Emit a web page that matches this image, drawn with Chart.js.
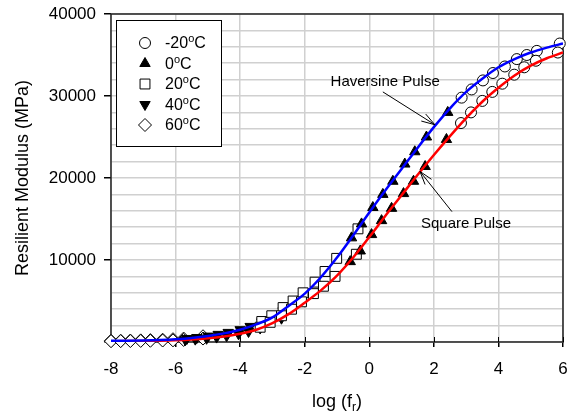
<!DOCTYPE html>
<html>
<head>
<meta charset="utf-8">
<script src="https://cdn.jsdelivr.net/npm/chart.js@4.4.0/dist/chart.umd.min.js"></script>
<style>
    html, body { margin: 0; padding: 0; background: #fff; }
    #wrap { width: 571px; height: 419px; }
</style>
</head>
<body>
<div id="wrap"><canvas id="modulusChart" width="571" height="419"></canvas></div>
<script>
// ===========================
// Resilient modulus master curves (Haversine vs Square pulse)
// ===========================

// fitted master curves
const curveLogFr = [-8, -7.5, -7, -6.5, -6, -5.5, -5, -4.5, -4, -3.5, -3, -2.5, -2, -1.5, -1, -0.5, 0, 0.5, 1, 1.5, 2, 2.5, 3, 3.5, 4, 4.5, 5, 5.5, 6];
const haversineFit = [150, 160, 190, 240, 330, 480, 720, 1050, 1500, 2150, 3000, 4400, 5900, 7900, 10300, 13000, 15800, 18500, 21100, 23700, 26200, 28500, 30500, 32100, 33500, 34500, 35300, 35900, 36400];
const squareFit = [100, 110, 130, 160, 210, 300, 450, 680, 1000, 1500, 2300, 3400, 4800, 6300, 8100, 10300, 12800, 15400, 17900, 20400, 22800, 25100, 27300, 29300, 31000, 32500, 33700, 34600, 35300];

const tempLabels = ['-20°C', '0°C', '20°C', '40°C', '60°C'];

// -20°C
const logFrM20Hav = [2.86, 3.17, 3.52, 3.83, 4.20, 4.57, 4.88, 5.19, 5.90];
const mrM20Hav = [29800, 30800, 31900, 32800, 33600, 34500, 35000, 35500, 36400];
const logFrM20Sq = [2.84, 3.15, 3.50, 3.81, 4.12, 4.49, 4.80, 5.16, 5.84];
const mrM20Sq = [26700, 28000, 29400, 30500, 31500, 32600, 33500, 34300, 35300];
// 0°C
const logFr0Hav = [-0.55, -0.24, 0.11, 0.42, 0.73, 1.10, 1.41, 1.77, 2.43];
const mr0Hav = [12700, 14400, 16400, 18000, 19600, 21700, 23200, 25000, 28000];
const logFr0Sq = [-0.59, -0.28, 0.07, 0.38, 0.69, 1.06, 1.37, 1.73, 2.39];
const mr0Sq = [9800, 11100, 13100, 14800, 16300, 18100, 19600, 21400, 24700];
// 20°C
const logFr20Hav = [-3.33, -3.02, -2.67, -2.36, -2.05, -1.68, -1.37, -1.01, -0.35];
const mr20Hav = [2500, 3200, 4200, 5000, 6000, 7300, 8600, 10200, 13800];
const logFr20Sq = [-3.38, -3.07, -2.72, -2.41, -2.10, -1.73, -1.42, -1.06, -0.40];
const mr20Sq = [1800, 2400, 3200, 4000, 4900, 5900, 6800, 8000, 10700];
// 40°C
const logFr40Hav = [-5.65, -5.34, -4.99, -4.68, -4.37, -4.00, -3.69, -3.33, -2.67];
const mr40Hav = [430, 550, 720, 930, 1170, 1500, 1900, 2450, 3800];
const logFr40Sq = [-5.70, -5.39, -5.04, -4.73, -4.42, -4.05, -3.74, -3.38, -2.72];
const mr40Sq = [270, 350, 450, 600, 760, 1000, 1280, 1700, 2900];
// 60°C
const logFr60Hav = [-8.00, -7.70, -7.40, -7.08, -6.78, -6.40, -6.08, -5.75, -5.15];
const mr60Hav = [150, 160, 180, 200, 230, 280, 340, 420, 700];
const logFr60Sq = [-8.00, -7.70, -7.40, -7.08, -6.78, -6.40, -6.08, -5.75, -5.15];
const mr60Sq = [100, 110, 120, 130, 150, 180, 200, 250, 420];

// callouts, anchored in data units
const calloutText = ['Haversine Pulse', 'Square Pulse'];
const calloutTextPos = [[-1.2, 31700], [1.6, 14400]];
const calloutTail = [[0.42, 30500], [2.56, 15900]];
const calloutTip = [[2.03, 26500], [1.57, 20800]];

const FONT = "'Liberation Sans', Arial, sans-serif";

function toPoints(xs, ys) {
    return xs.map((x, i) => ({ x: x, y: ys[i] }));
}

function markerSet(label, hx, hy, sx, sy, style) {
    return Object.assign({
        label: label,
        data: toPoints(hx, hy).concat(toPoints(sx, sy)),
        showLine: false,
        inLegend: true,
        clip: false,
        order: 5,
        borderColor: '#000',
        borderWidth: 1,
        backgroundColor: '#fff'
    }, style);
}

// Legend inside plot, drawn by hand
const tempLegend = {
    id: 'tempLegend',
    afterDraw(chart) {
        const ctx = chart.ctx;
        const left = chart.chartArea.left + 5;
        const top = chart.chartArea.top + 6;
        ctx.save();
        ctx.fillStyle = '#fff';
        ctx.fillRect(left, top, 105, 126);
        ctx.strokeStyle = '#000';
        ctx.lineWidth = 1;
        ctx.strokeRect(left + 0.5, top + 0.5, 105, 126);

        const sets = chart.data.datasets.filter(d => d.inLegend);
        sets.forEach((ds, i) => {
            const y = top + 23 + i * 20.5;
            ctx.fillStyle = ds.backgroundColor;
            ctx.strokeStyle = ds.borderColor;
            ctx.lineWidth = ds.borderWidth;
            Chart.helpers.drawPoint(ctx, {
                pointStyle: ds.pointStyle,
                rotation: ds.rotation || 0,
                radius: ds.pointRadius,
                borderWidth: ds.borderWidth
            }, left + 29, y);

            // label with superscript degree
            const parts = ds.label.split('°');
            let x = left + 49;
            ctx.fillStyle = '#000';
            ctx.textAlign = 'left';
            ctx.textBaseline = 'middle';
            ctx.font = '16px ' + FONT;
            ctx.fillText(parts[0], x, y + 1);
            x += ctx.measureText(parts[0]).width;
            ctx.font = '11px ' + FONT;
            ctx.fillText('o', x, y - 4);
            x += ctx.measureText('o').width;
            ctx.font = '16px ' + FONT;
            ctx.fillText(parts[1], x, y + 1);
        });
        ctx.restore();
    }
};

// frame, inner x ticks, x title with subscript, callouts
const decorations = {
    id: 'decorations',
    beforeDatasetsDraw(chart) {
        const ctx = chart.ctx;
        const a = chart.chartArea;
        const xs = chart.scales.x;
        ctx.save();
        ctx.strokeStyle = '#222';
        ctx.lineWidth = 1.5;
        ctx.strokeRect(a.left, a.top, a.right - a.left, a.bottom - a.top);
        ctx.lineWidth = 1;
        ctx.strokeStyle = '#000';
        xs.ticks.forEach(t => {
            const px = Math.round(xs.getPixelForValue(t.value)) + 0.5;
            ctx.beginPath();
            ctx.moveTo(px, a.bottom - 5);
            ctx.lineTo(px, a.bottom);
            ctx.stroke();
        });
        ctx.restore();
    },
    afterDraw(chart) {
        const ctx = chart.ctx;
        const a = chart.chartArea;
        const xs = chart.scales.x;
        const ys = chart.scales.y;
        ctx.save();

        // x axis title: log (f_r)
        const cx = (a.left + a.right) / 2;
        const ty = 402;
        ctx.fillStyle = '#000';
        ctx.textBaseline = 'middle';
        ctx.textAlign = 'left';
        ctx.font = '18px ' + FONT;
        const w1 = ctx.measureText('log (f').width;
        const w3 = ctx.measureText(')').width;
        ctx.font = '12px ' + FONT;
        const w2 = ctx.measureText('r').width;
        let x = cx - (w1 + w2 + w3) / 2;
        ctx.font = '18px ' + FONT;
        ctx.fillText('log (f', x, ty);
        x += w1;
        ctx.font = '12px ' + FONT;
        ctx.fillText('r', x, ty + 6);
        x += w2;
        ctx.font = '18px ' + FONT;
        ctx.fillText(')', x, ty);

        // callouts
        ctx.font = '15px ' + FONT;
        ctx.strokeStyle = '#000';
        ctx.lineWidth = 1;
        calloutText.forEach((txt, i) => {
            ctx.fillText(txt, xs.getPixelForValue(calloutTextPos[i][0]), ys.getPixelForValue(calloutTextPos[i][1]));
            const x0 = xs.getPixelForValue(calloutTail[i][0]);
            const y0 = ys.getPixelForValue(calloutTail[i][1]);
            const x1 = xs.getPixelForValue(calloutTip[i][0]);
            const y1 = ys.getPixelForValue(calloutTip[i][1]);
            const ang = Math.atan2(y1 - y0, x1 - x0);
            ctx.beginPath();
            ctx.moveTo(x0, y0);
            ctx.lineTo(x1, y1);
            ctx.moveTo(x1 - 14 * Math.cos(ang - 0.3), y1 - 14 * Math.sin(ang - 0.3));
            ctx.lineTo(x1, y1);
            ctx.lineTo(x1 - 14 * Math.cos(ang + 0.3), y1 - 14 * Math.sin(ang + 0.3));
            ctx.stroke();
        });
        ctx.restore();
    }
};

const ctx = document.getElementById('modulusChart');

new Chart(ctx, {
    type: 'scatter',
    data: {
        datasets: [
            {
                label: 'Haversine Pulse',
                data: toPoints(curveLogFr, haversineFit),
                showLine: true,
                borderColor: '#0000ff',
                borderWidth: 2.5,
                pointRadius: 0,
                cubicInterpolationMode: 'monotone',
                order: 0
            },
            {
                label: 'Square Pulse',
                data: toPoints(curveLogFr, squareFit),
                showLine: true,
                borderColor: '#ff0000',
                borderWidth: 2.5,
                pointRadius: 0,
                cubicInterpolationMode: 'monotone',
                order: 1
            },
            markerSet(tempLabels[0], logFrM20Hav, mrM20Hav, logFrM20Sq, mrM20Sq, { pointStyle: 'circle', pointRadius: 5.5 }),
            markerSet(tempLabels[1], logFr0Hav, mr0Hav, logFr0Sq, mr0Sq, { pointStyle: 'triangle', pointRadius: 6, backgroundColor: '#000' }),
            markerSet(tempLabels[2], logFr20Hav, mr20Hav, logFr20Sq, mr20Sq, { pointStyle: 'rect', pointRadius: 7 }),
            markerSet(tempLabels[3], logFr40Hav, mr40Hav, logFr40Sq, mr40Sq, { pointStyle: 'triangle', rotation: 180, pointRotation: 180, pointRadius: 6, backgroundColor: '#000' }),
            markerSet(tempLabels[4], logFr60Hav, mr60Hav, logFr60Sq, mr60Sq, { pointStyle: 'rectRot', pointRadius: 6.5 })
        ]
    },
    options: {
        responsive: false,
        animation: false,
        layout: { padding: { left: 0, right: 8, top: 14, bottom: 0 } },
        plugins: {
            legend: { display: false },
            tooltip: { enabled: false }
        },
        scales: {
            x: {
                type: 'linear',
                min: -8,
                max: 6,
                afterFit: function(scale) { scale.height = 77; scale.paddingRight = 0; },
                border: { display: false },
                grid: {
                    color: '#d0d0d0',
                    lineWidth: 1.5,
                    tickColor: '#000',
                    tickLength: 5
                },
                ticks: {
                    stepSize: 2,
                    padding: 12,
                    color: '#000',
                    font: { family: FONT, size: 17 }
                }
            },
            y: {
                min: 0,
                max: 40000,
                afterFit: function(scale) { scale.width = 111; scale.paddingTop = 0; },
                border: { display: false },
                grid: {
                    color: '#d0d0d0',
                    lineWidth: 1.5,
                    tickLength: 7,
                    tickColor: function(c) {
                        return (c.tick && c.tick.value % 10000 === 0) ? '#000' : 'rgba(0,0,0,0)';
                    }
                },
                ticks: {
                    stepSize: 2000,
                    autoSkip: false,
                    padding: 8,
                    color: '#000',
                    font: { family: FONT, size: 17 },
                    callback: function(value) {
                        return (value % 10000 === 0 && value !== 0) ? String(value) : '';
                    }
                },
                title: {
                    display: true,
                    text: 'Resilient Modulus (MPa)',
                    color: '#000',
                    font: { family: FONT, size: 18 },
                    padding: { top: 12, bottom: 0 }
                }
            }
        }
    },
    plugins: [decorations, tempLegend]
});
</script>
</body>
</html>
